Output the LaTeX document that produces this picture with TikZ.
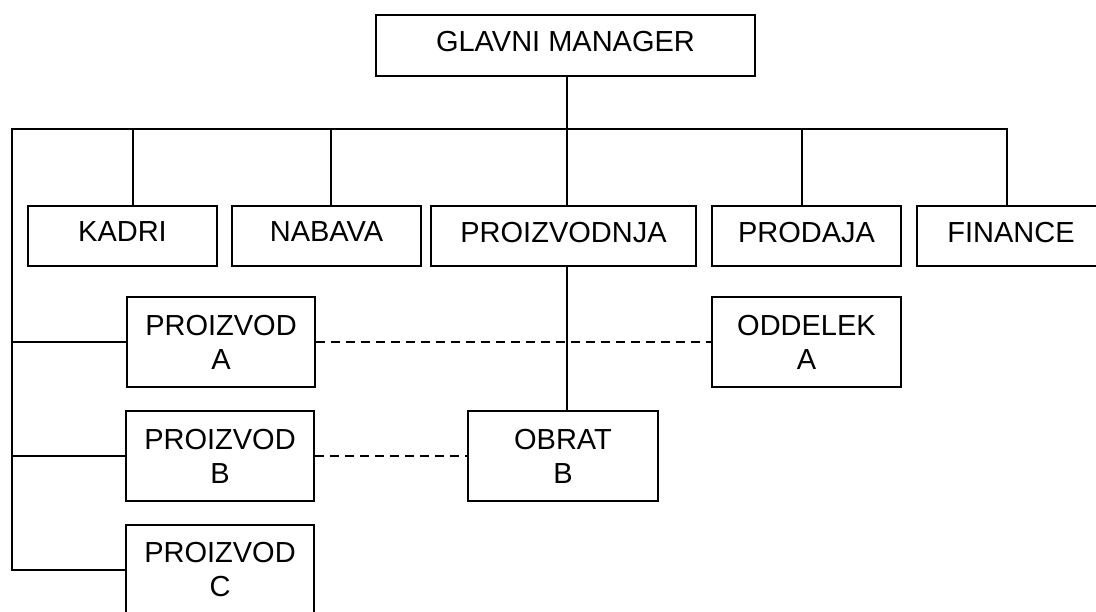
\documentclass[tikz,border=0pt]{standalone}
\usepackage{fontspec}
\setmainfont{Liberation Sans}
\begin{document}
\begin{tikzpicture}[x=1pt,y=-1pt,
  box/.style={draw,line width=2pt,inner sep=0pt,align=center,
    font=\fontsize{29}{34}\selectfont,minimum width=189pt},
  onebox/.style={box,minimum height=60pt,text depth=8pt},
  twobox/.style={box,minimum height=90pt},
  link/.style={line width=2pt},
  dlink/.style={line width=2pt,dash pattern=on 9pt off 6pt}]
\path[use as bounding box,clip] (0,0) rectangle (1096,612);

% top manager
\node[onebox,minimum width=379pt,minimum height=61pt] (gm) at (565.5,45.5) {GLAVNI MANAGER};

% department row
\node[onebox] (kad) at (122.5,236) {KADRI};
\node[onebox] (nab) at (326.5,236) {NABAVA};
\node[onebox,minimum width=265pt] (pro) at (563.5,236) {PROIZVODNJA};
\node[onebox] (prd) at (806.5,236) {PRODAJA};
\node[onebox] (fin) at (1011,236) {FINANCE};

% product and unit boxes
\node[twobox,minimum width=188pt] (pa) at (221,342) {PROIZVOD\\A};
\node[twobox] (oa) at (806.5,342) {ODDELEK\\A};
\node[twobox,minimum width=188pt] (pb) at (220,456) {PROIZVOD\\B};
\node[twobox,minimum width=190pt] (ob) at (563,456) {OBRAT\\B};
\node[twobox,minimum width=188pt] (pc) at (220,570) {PROIZVOD\\C};

% bus points
\coordinate (bl) at (12,129);
\coordinate (br) at (1007,129);
\coordinate (bm) at (567,129);
\coordinate (bk) at (133,129);
\coordinate (bn) at (331,129);
\coordinate (bp) at (802,129);

% main bus with left spine
\draw[link] (pc.west) -| (bl) -- (br) -- (br |- fin.north);
\draw[link] (gm.south -| bm) -- (bm);
\draw[link] (bk) -- (bk |- kad.north);
\draw[link] (bn) -- (bn |- nab.north);
\draw[link] (bm) -- (bm |- pro.north);
\draw[link] (bp) -- (bp |- prd.north);
\draw[link] (pa.west) -- (pa.west -| bl);
\draw[link] (pb.west) -- (pb.west -| bl);
\draw[link] (pro.south -| bm) -- (ob.north -| bm);

% dashed cross links
\draw[dlink] (pa.east) -- (oa.west);
\draw[dlink] (pb.east) -- (ob.west);
\end{tikzpicture}
\end{document}
